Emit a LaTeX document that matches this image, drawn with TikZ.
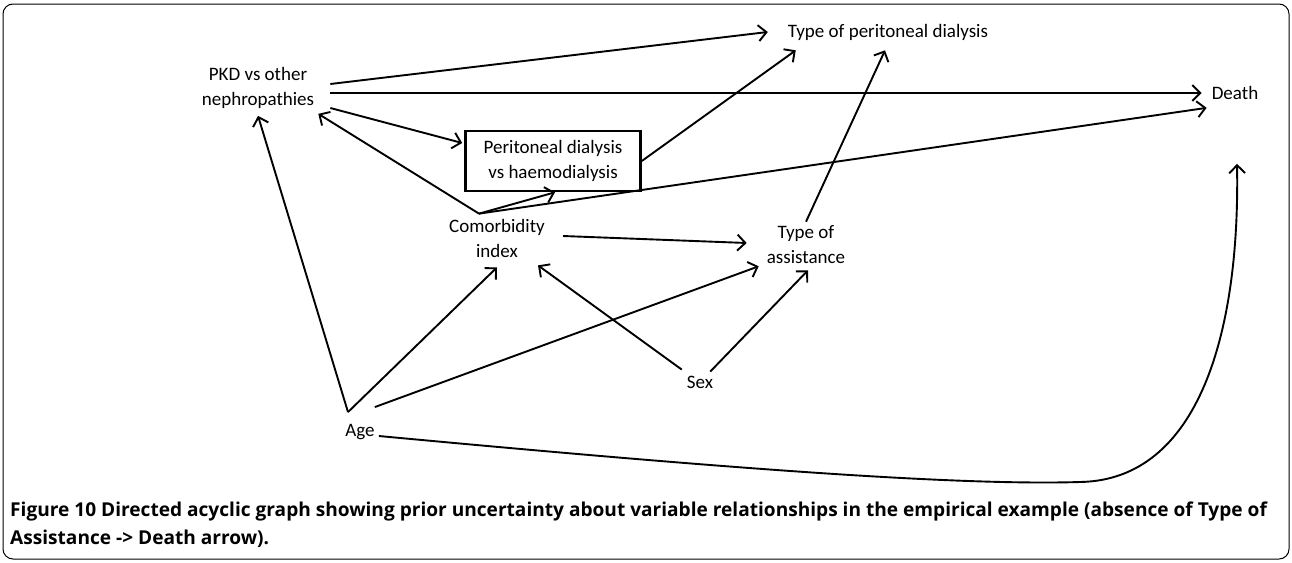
\documentclass[tikz,border=0pt]{standalone}
\usepackage{fontspec}
\setmainfont{Carlito}
\newfontfamily\capfont{Open Sans}
\usetikzlibrary{arrows.meta,calc}
\tikzset{
  var/.style    = {align=center, inner sep=2pt, font=\fontsize{19}{25}\selectfont},
  boxvar/.style = {var, draw, line width=2.6pt, minimum width=175pt, minimum height=60pt},
  link/.style   = {draw, line width=1.9pt, -{Straight Barb[length=8pt,width=16pt]}},
  frame/.style  = {draw, line width=1pt, rounded corners=10pt},
  caption/.style = {anchor=north west, align=left, inner sep=0pt,
                    font=\capfont\bfseries\fontsize{19.1}{28}\selectfont}
}

\begin{document}
\begin{tikzpicture}[x=1pt,y=-1pt]
  \useasboundingbox (0,0) rectangle (1292,562);
  \draw[frame] (3,4) rectangle (1289,559);

  % variables
  \node[var]    (pkd)   at (258,88)  {PKD vs other\\nephropathies};
  \node[var]    (tpd)   at (888,32)  {Type of peritoneal dialysis};
  \node[var]    (death) at (1235,93) {Death};
  \node[boxvar] (pdhd)  at (553,161) {Peritoneal dialysis\\vs haemodialysis};
  \node[var]    (como)  at (497,238) {Comorbidity\\index};
  \node[var]    (toa)   at (806,245) {Type of\\assistance};
  \node[var]    (sex)   at (700,382) {Sex};
  \node[var]    (age)   at (360,432) {Age};

  \coordinate (comotop) at ($(como.north)+(-18,-3)$);
  \coordinate (agetop)  at ($(age.north)+(-12,-10)$);

  % edges
  \draw[link] ($(pkd.east)+(14,-4)$) -- ($(tpd.west)+(-18,0)$);
  \draw[link] ($(pkd.east)+(14,5)$) -- ($(death.west)+(-8,0)$);
  \draw[link] ($(pkd.east)+(14,20)$) -- ($(pdhd.west)+(-2,-18)$);
  \draw[link] (comotop) -- ($(pkd.south east)+(2,3)$);
  \draw[link] (comotop) -- ($(pdhd.south)+(2,0)$);
  \draw[link] (comotop) -- ($(death.south west)+(-3,6)$);
  \draw[link] (pdhd.east) -- ($(tpd.south west)+(10,8)$);
  \draw[link] ($(como.east)+(16,-2)$) -- ($(toa.west)+(-18,-2)$);
  \draw[link] ($(toa.north)+(0,-2)$) -- ($(tpd.south)+(-3,8)$);
  \draw[link] (agetop) -- ($(pkd.south)+(0,5)$);
  \draw[link] (agetop) -- ($(como.south)+(0,8)$);
  \draw[link] ($(age.north east)+(-2,-15)$) -- ($(toa.south west)+(-6,0)$);
  \draw[link] ($(sex.north west)+(-3,-4)$) -- ($(como.south east)+(-9,6)$);
  \draw[link] ($(sex.north east)+(-5,-2)$) -- ($(toa.south)+(2,4)$);
  \draw[link] ($(age.east)+(2,4)$) .. controls (700,466) and (950,486) .. (1080,482)
    .. controls (1200,480) and (1240,330) .. ($(death.south)+(2,62)$);

  \node[caption] (cap) at (10,502) {Figure 10 Directed acyclic graph showing prior uncertainty about variable relationships in the empirical example (absence of Type of\\Assistance -> Death arrow).};
\end{tikzpicture}
\end{document}
